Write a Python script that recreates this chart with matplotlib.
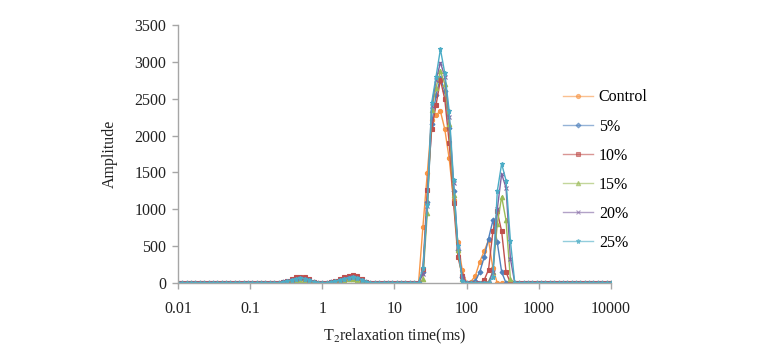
import numpy as np
import matplotlib
matplotlib.use("Agg")
import matplotlib.pyplot as plt
from matplotlib.ticker import FixedLocator, FixedFormatter

plt.rcParams['font.family'] = ['Liberation Serif', 'DejaVu Serif']
plt.rcParams['mathtext.fontset'] = 'stix'

# T2 relaxation time grid (ms), 100 log-spaced points
t2 = np.logspace(-2, 4, 100)

labels = ['Control', '5%', '10%', '15%', '20%', '25%']
colors = ['#F79646', '#4F81BD', '#C0504D', '#9BBB59', '#8064A2', '#4BACC6']
markers = ['o', 'D', 's', '^', 'x', '*']
msizes = [3.0, 2.5, 3.0, 3.2, 3.5, 3.6]

# segments (indices 24-31, 35-44, 55-66, 67-77; others zero)
bump1 = {
    'Control': [5, 15, 30, 45, 50, 45, 30, 10],
    '5%':      [8, 20, 38, 52, 58, 50, 32, 12],
    '10%':     [10, 30, 55, 75, 82, 75, 50, 20],
    '15%':     [5, 12, 25, 35, 40, 35, 22, 8],
    '20%':     [8, 22, 40, 55, 62, 55, 38, 15],
    '25%':     [10, 25, 45, 60, 68, 60, 40, 18],
}
bump2 = {
    'Control': [5, 15, 30, 45, 55, 60, 50, 30, 10, 0],
    '5%':      [8, 20, 35, 55, 68, 72, 60, 35, 12, 0],
    '10%':     [10, 25, 50, 75, 95, 105, 90, 55, 20, 0],
    '15%':     [5, 12, 25, 38, 48, 50, 42, 25, 8, 0],
    '20%':     [8, 20, 40, 60, 75, 80, 68, 40, 15, 0],
    '25%':     [10, 22, 42, 60, 72, 78, 70, 45, 18, 0],
}
peak1 = {
    'Control': [0, 764, 1490, 2210, 2280, 2330, 2085, 1690, 1130, 550, 176, 0],
    '5%':      [0, 150, 1100, 2150, 2550, 2780, 2600, 2100, 1250, 450, 80, 0],
    '10%':     [0, 186, 1262, 2085, 2415, 2754, 2492, 1904, 1090, 357, 100, 0],
    '15%':     [0, 50, 950, 2350, 2650, 2870, 2700, 2150, 1200, 450, 50, 0],
    '20%':     [0, 120, 1050, 2400, 2750, 2990, 2800, 2250, 1350, 500, 80, 0],
    '25%':     [0, 200, 1058, 2442, 2800, 3170, 2845, 2338, 1397, 500, 30, 0],
}
peak2 = {
    'Control': [20, 100, 290, 430, 580, 200, 0, 0, 0, 0, 0],
    '5%':      [0, 30, 150, 350, 600, 850, 550, 150, 0, 0, 0],
    '10%':     [0, 0, 0, 40, 180, 700, 970, 700, 150, 0, 0],
    '15%':     [0, 0, 0, 0, 20, 150, 800, 1170, 850, 50, 0],
    '20%':     [0, 0, 0, 0, 0, 150, 1000, 1480, 1290, 330, 0],
    '25%':     [0, 0, 0, 0, 0, 80, 1244, 1618, 1390, 574, 0],
}

xticks = [0.01, 0.1, 1, 10, 100, 1000, 10000]
xticklabels = ['0.01', '0.1', '1', '10', '100', '1000', '10000']
yticks = [0, 500, 1000, 1500, 2000, 2500, 3000, 3500]

fig = plt.figure(figsize=(7.59, 3.61), dpi=100)
ax = fig.add_axes([0.2345, 0.216, 0.805 - 0.2345, 0.715])

for lab, c, m, ms in zip(labels, colors, markers, msizes):
    amp = ([0] * 24 + bump1[lab] + [0] * 3 + bump2[lab] + [0] * 10
           + peak1[lab] + peak2[lab] + [0] * 22)
    ax.plot(t2, amp, color=c, marker=m, markersize=ms, linewidth=1.0,
            markeredgewidth=0.8, label=lab)

ax.set_xscale('log')
ax.set_xlim(0.01, 10000)
ax.set_ylim(0, 3500)
ax.xaxis.set_major_locator(FixedLocator(xticks))
ax.xaxis.set_major_formatter(FixedFormatter(xticklabels))
ax.xaxis.set_minor_locator(FixedLocator([]))
ax.set_yticks(yticks)

for s in ['top', 'right']:
    ax.spines[s].set_visible(False)
for s in ['left', 'bottom']:
    ax.spines[s].set_color('#A6A6A6')
    ax.spines[s].set_linewidth(1.0)

ax.tick_params(axis='both', colors='#A6A6A6', labelcolor='#222222',
               labelsize=11.5, length=4, width=1.0, direction='out')
ax.tick_params(axis='x', pad=9)
ax.tick_params(axis='y', pad=4.5)

ax.set_xlabel(r'T$_2$relaxation time(ms)', fontsize=11.5, color='#222222', labelpad=7)
ax.set_ylabel('Amplitude', fontsize=11.5, color='#222222', labelpad=12)

leg = ax.legend(loc='upper left', bbox_to_anchor=(0.889, 0.75), frameon=False,
                fontsize=11.5, handlelength=1.9, labelspacing=0.82,
                handletextpad=0.35, borderaxespad=0, borderpad=0)
for line in leg.get_lines():
    line.set_alpha(0.6)

fig.savefig('out.png', dpi=100)
